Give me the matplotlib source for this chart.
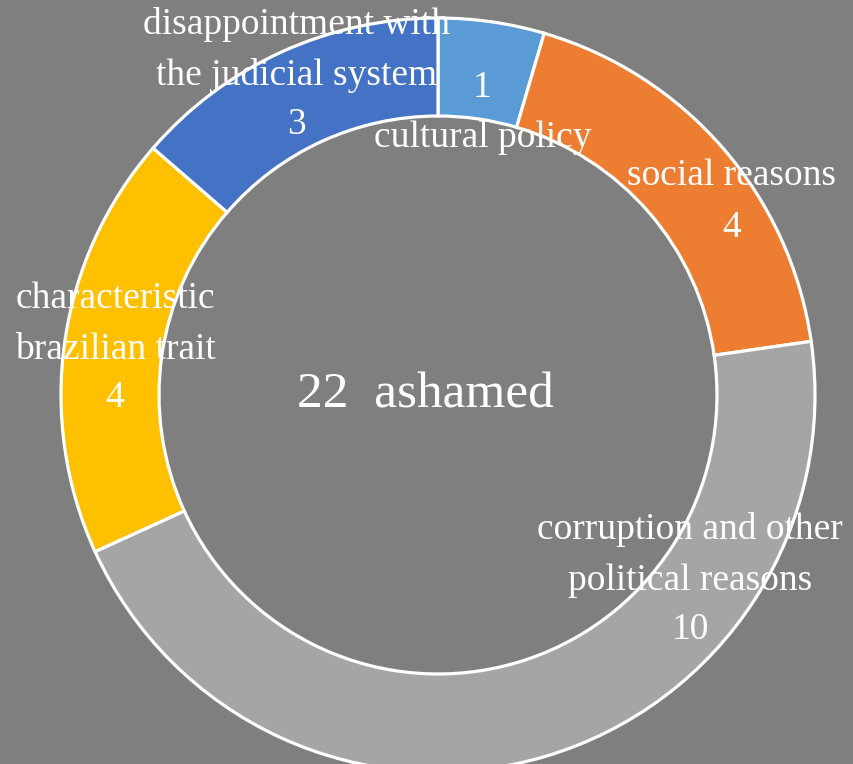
import matplotlib.pyplot as plt

# categories go clockwise from 12 o'clock
labels = ['cultural policy', 'social reasons',
          'corruption and other\npolitical reasons',
          'characteristic\nbrazilian trait',
          'disappointment with\nthe judicial system']
counts = [1, 4, 10, 4, 3]
colors = ['#5B9BD5', '#ED7D31', '#A5A5A5', '#FFC000', '#4472C4']
total = sum(counts)

W, H = 854, 764
bg = '#7F7F7F'

plt.rcParams['font.family'] = ['Liberation Serif', 'DejaVu Serif']

fig = plt.figure(figsize=(W / 100, H / 100), dpi=100, facecolor=bg)
ax = fig.add_axes([0, 0, 1, 1])
ax.set_facecolor(bg)

cx, cy, R = 438, H - 395, 377
ax.pie(counts, colors=colors, startangle=90, counterclock=False,
       center=(cx, cy), radius=R, frame=True,
       wedgeprops=dict(width=R * 0.26, edgecolor='white', linewidth=2.3))
ax.set_xlim(0, W)
ax.set_ylim(0, H)
ax.set_aspect('equal')
ax.axis('off')

fs = 27
kw = dict(color='white', fontsize=fs, ha='center', va='center', linespacing=1.62)

# text positions (pixels from the top-left corner)
txt = [
    (483, 138, labels[0]), (482, 88, str(counts[0])),
    (732, 176, labels[1]), (732, 228, str(counts[1])),
    (690, 555, labels[2]), (690, 630, str(counts[2])),
    (115, 324, labels[3]), (115, 398, str(counts[3])),
    (297, 50, labels[4]), (297, 125, str(counts[4])),
]
for x, y, s in txt:
    ax.text(x, H - y, s, **kw)

ax.text(425, H - 395, f'{total}  ashamed', color='white', fontsize=37,
        ha='center', va='center')

fig.savefig('out.png', dpi=100, facecolor=bg)
